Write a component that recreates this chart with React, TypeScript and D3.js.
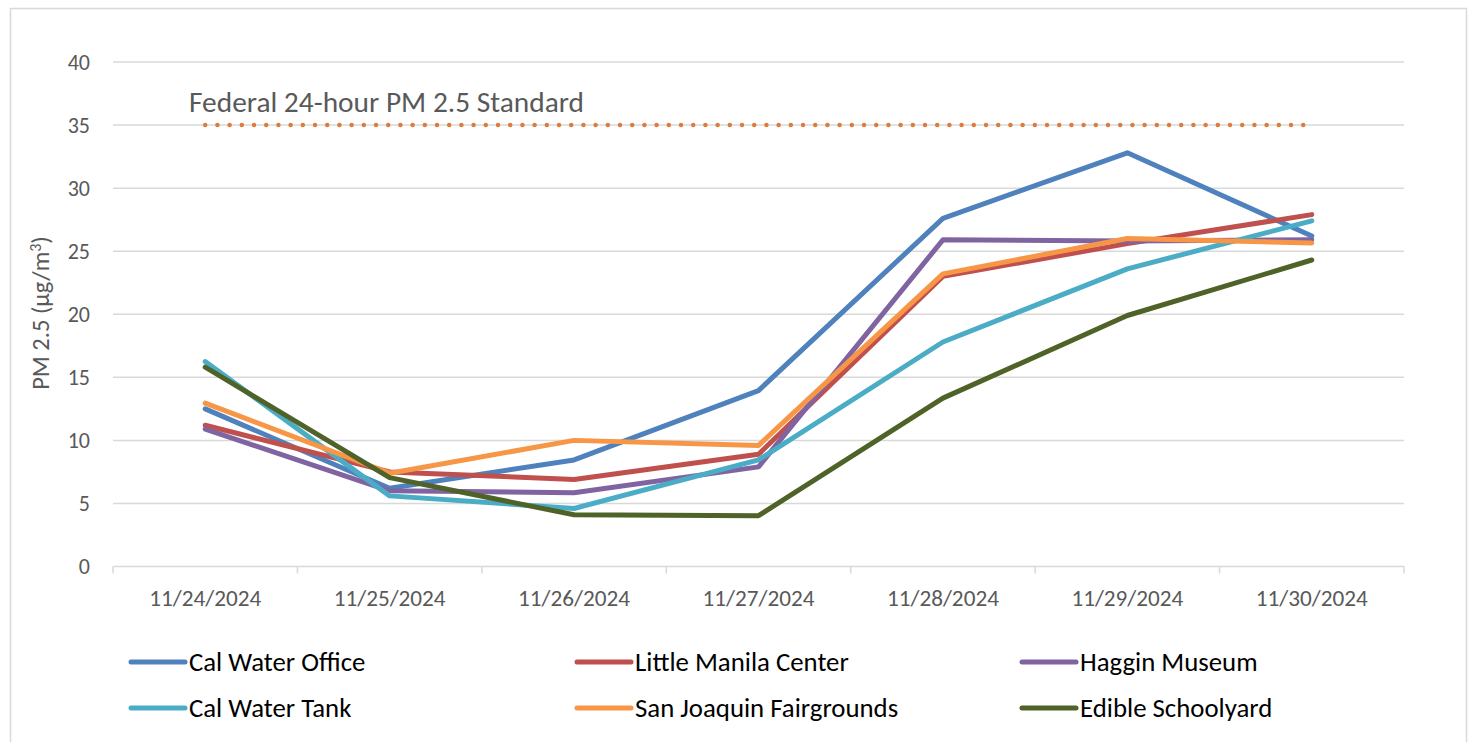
import React from "react";
import * as d3 from "d3";

const categories = ["11/24/2024", "11/25/2024", "11/26/2024", "11/27/2024", "11/28/2024", "11/29/2024", "11/30/2024"];
const seriesNames = ["Cal Water Office", "Little Manila Center", "Haggin Museum", "Cal Water Tank", "San Joaquin Fairgrounds", "Edible Schoolyard"];
const seriesColors = ["#4F81BD", "#C0504D", "#8064A2", "#4BACC6", "#F79646", "#4F6228"];
const calWaterOffice = [12.5, 6.2, 8.45, 13.95, 27.6, 32.8, 26.2];
const littleManila = [11.2, 7.5, 6.9, 8.9, 23.0, 25.6, 27.9];
const hagginMuseum = [10.9, 6.0, 5.85, 7.9, 25.9, 25.8, 25.9];
const calWaterTank = [16.25, 5.6, 4.6, 8.45, 17.8, 23.6, 27.4];
const sanJoaquin = [12.95, 7.4, 10.0, 9.6, 23.2, 26.0, 25.65];
const edibleSchoolyard = [15.8, 7.05, 4.1, 4.03, 13.35, 19.9, 24.3];
const seriesValues = [calWaterOffice, littleManila, hagginMuseum, calWaterTank, sanJoaquin, edibleSchoolyard];
const yTicks = [0, 5, 10, 15, 20, 25, 30, 35, 40];
const standardValue = 35;
const standardLabel = "Federal 24-hour PM 2.5 Standard";

const FONT = "Carlito, Calibri, Lato, 'Open Sans', sans-serif";

export default function App() {
  const W = 1470, H = 742;
  const left = 113, right = 1404, top = 62, bottom = 566.5;
  const x = d3.scaleBand<string>().domain(categories).range([left, right]);
  const cx = (c: string) => (x(c) as number) + x.bandwidth() / 2;
  const y = d3.scaleLinear().domain([0, 40]).range([bottom, top]);
  const line = d3.line<number>().x((_, i) => cx(categories[i])).y((v) => y(v));
  const boundaries = categories.map((c) => x(c) as number).concat([right]);

  const legendCols = [131, 577, 1022];
  const legendRows = [662, 708];

  return (
    <svg width={W} height={H} style={{ position: "absolute", left: 0, top: 0, background: "#fff" }} fontFamily={FONT}>
      <rect x={10.5} y={8.5} width={1456} height={760} fill="#fff" stroke="#D9D9D9" strokeWidth={1.5} />
      {yTicks.filter((t) => t > 0).map((t) => (
        <line key={t} x1={left} x2={right} y1={y(t)} y2={y(t)} stroke="#D9D9D9" strokeWidth={1.5} />
      ))}
      <line x1={left} x2={right} y1={y(0)} y2={y(0)} stroke="#D9D9D9" strokeWidth={1.5} />
      {boundaries.map((b, i) => (
        <line key={i} x1={b} x2={b} y1={y(0)} y2={y(0) + 7} stroke="#D9D9D9" strokeWidth={1.5} />
      ))}
      {yTicks.map((t) => (
        <text key={t} x={90} y={y(t)} dy="0.35em" textAnchor="end" fontSize={22} fill="#595959">{t}</text>
      ))}
      {categories.map((c) => (
        <text key={c} x={cx(c)} y={598} dy="0.35em" textAnchor="middle" fontSize={23.2} fill="#595959">{c}</text>
      ))}
      <text transform={`translate(49,${313}) rotate(-90)`} textAnchor="middle" fontSize={24.5} fill="#595959">
        PM 2.5 (µg/m<tspan dy={-8} fontSize={16}>3</tspan><tspan dy={8}>)</tspan>
      </text>
      <line x1={cx(categories[0])} x2={cx(categories[categories.length - 1])} y1={y(standardValue)} y2={y(standardValue)}
        stroke="#E07B39" strokeWidth={4.5} strokeLinecap="round" strokeDasharray="0 12.2" />
      <text x={189} y={112} fontSize={29.4} fill="#595959">{standardLabel}</text>
      {seriesValues.map((vals, i) => (
        <path key={i} d={line(vals) || ""} fill="none" stroke={seriesColors[i]} strokeWidth={5} strokeLinejoin="round" strokeLinecap="round" />
      ))}
      {seriesNames.map((n, i) => {
        const lx = legendCols[i % 3];
        const ly = legendRows[Math.floor(i / 3)];
        return (
          <g key={n}>
            <line x1={lx} x2={lx + 54} y1={ly} y2={ly} stroke={seriesColors[i]} strokeWidth={5} strokeLinecap="round" />
            <text x={lx + 58} y={ly} dy="0.35em" fontSize={26.8} fill="#000">{n}</text>
          </g>
        );
      })}
    </svg>
  );
}
